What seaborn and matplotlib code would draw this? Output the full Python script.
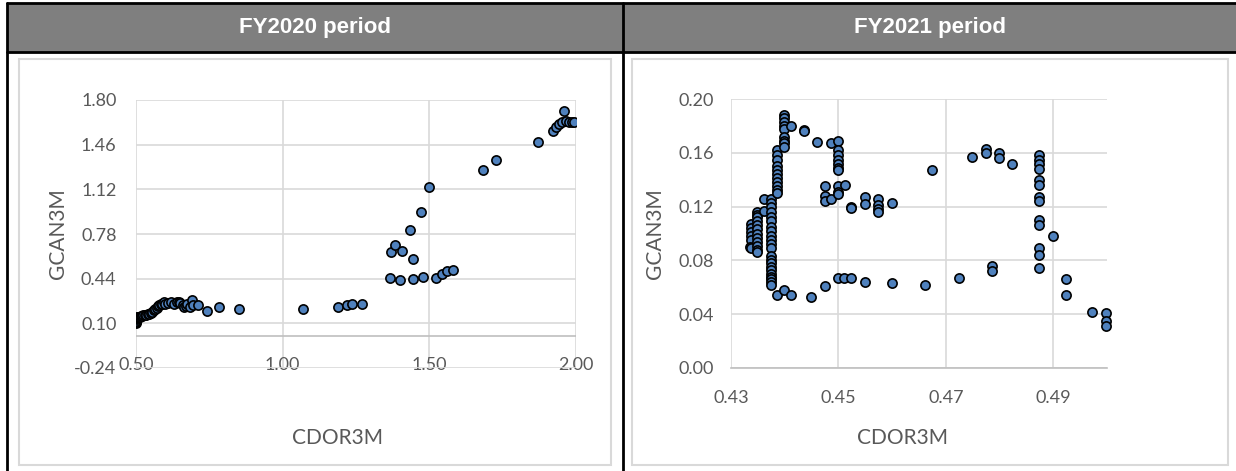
import pandas as pd
import seaborn as sns
from matplotlib import pyplot as plt
from matplotlib.patches import Rectangle
from matplotlib.lines import Line2D

# FY2020: CDOR3M (x) vs GCAN3M (y)
cdor_2020 = [0.500, 0.500, 0.501, 0.502, 0.503, 0.505, 0.508, 0.512, 0.516, 0.520,
             0.525, 0.530, 0.535, 0.540, 0.545, 0.550, 0.555, 0.560, 0.565, 0.570,
             0.575, 0.580, 0.585, 0.590, 0.595, 0.600, 0.610, 0.620, 0.630, 0.640,
             0.645, 0.650, 0.660, 0.665, 0.670, 0.675, 0.683, 0.690, 0.695, 0.711,
             0.741, 0.782, 0.850, 1.068, 1.190, 1.221, 1.235, 1.269,
             1.367, 1.401, 1.446, 1.480, 1.523, 1.544, 1.561, 1.582,
             1.371, 1.384, 1.408, 1.446, 1.435, 1.473, 1.500, 1.684, 1.728, 1.871,
             1.922, 1.932, 1.942, 1.952, 1.959, 1.966, 1.976, 1.985, 1.993]
gcan_2020 = [0.100, 0.110, 0.120, 0.130, 0.140, 0.145, 0.150, 0.150, 0.155, 0.155,
             0.160, 0.160, 0.165, 0.170, 0.170, 0.180, 0.190, 0.200, 0.210, 0.220,
             0.230, 0.240, 0.245, 0.250, 0.260, 0.250, 0.255, 0.260, 0.250, 0.266,
             0.260, 0.251, 0.240, 0.221, 0.230, 0.250, 0.221, 0.281, 0.240, 0.236,
             0.191, 0.221, 0.206, 0.206, 0.221, 0.236, 0.244, 0.244,
             0.448, 0.432, 0.440, 0.455, 0.448, 0.478, 0.500, 0.508,
             0.644, 0.697, 0.652, 0.591, 0.811, 0.946, 1.135, 1.264, 1.347, 1.483,
             1.566, 1.596, 1.619, 1.634, 1.717, 1.641, 1.634, 1.634, 1.634]

# FY2021
cdor_2021 = [0.4337, 0.4337, 0.4337, 0.4337, 0.4337, 0.4335, 0.4337,
             0.4348, 0.4348, 0.4348, 0.4348, 0.4348, 0.4348, 0.4348, 0.4348, 0.4348, 0.4348, 0.4348, 0.4348,
             0.4361, 0.4361,
             0.4374, 0.4374, 0.4374, 0.4374, 0.4374, 0.4374, 0.4374, 0.4374, 0.4374, 0.4374, 0.4374,
             0.4374, 0.4374, 0.4374, 0.4374, 0.4374, 0.4374, 0.4374, 0.4374, 0.4374, 0.4374, 0.4374,
             0.4386, 0.4386, 0.4386, 0.4386, 0.4386, 0.4386, 0.4386, 0.4386, 0.4386, 0.4386, 0.4386, 0.4386,
             0.4399, 0.4399, 0.4399, 0.4399, 0.4399, 0.4399, 0.4399, 0.4399, 0.4399, 0.4399,
             0.4412, 0.4412, 0.4436, 0.4436, 0.4449, 0.4460,
             0.4475, 0.4475, 0.4475, 0.4475, 0.4486, 0.4486,
             0.4499, 0.4499, 0.4499, 0.4499, 0.4499, 0.4499, 0.4499, 0.4499, 0.4499, 0.4499, 0.4499,
             0.4512, 0.4511, 0.4523, 0.4523, 0.4523, 0.4549, 0.4549, 0.4549,
             0.4574, 0.4574, 0.4574, 0.4574, 0.4600, 0.4600, 0.4661, 0.4674, 0.4724, 0.4748,
             0.4774, 0.4774, 0.4786, 0.4786, 0.4799, 0.4799, 0.4823,
             0.4873, 0.4873, 0.4873, 0.4873, 0.4873, 0.4873, 0.4873, 0.4873, 0.4873, 0.4873, 0.4873, 0.4873, 0.4873,
             0.4899, 0.4923, 0.4923, 0.4973, 0.4998, 0.4998, 0.4998]
gcan_2021 = [0.107, 0.104, 0.101, 0.098, 0.095, 0.090, 0.089,
             0.116, 0.114, 0.112, 0.109, 0.106, 0.103, 0.100, 0.097, 0.094, 0.091, 0.088, 0.086,
             0.126, 0.117,
             0.126, 0.123, 0.120, 0.116, 0.112, 0.109, 0.105, 0.102, 0.098, 0.095, 0.092,
             0.089, 0.083, 0.080, 0.078, 0.075, 0.073, 0.070, 0.068, 0.066, 0.064, 0.062,
             0.162, 0.158, 0.155, 0.150, 0.147, 0.144, 0.141, 0.138, 0.135, 0.132, 0.130, 0.054,
             0.188, 0.186, 0.183, 0.180, 0.178, 0.172, 0.169, 0.167, 0.164, 0.058,
             0.180, 0.054, 0.177, 0.176, 0.053, 0.168,
             0.135, 0.128, 0.124, 0.061, 0.167, 0.126,
             0.169, 0.162, 0.158, 0.155, 0.152, 0.149, 0.147, 0.135, 0.131, 0.129, 0.067,
             0.136, 0.067, 0.120, 0.119, 0.067, 0.127, 0.122, 0.064,
             0.126, 0.121, 0.118, 0.116, 0.123, 0.063, 0.062, 0.147, 0.067, 0.157,
             0.163, 0.160, 0.076, 0.072, 0.160, 0.156, 0.152,
             0.158, 0.155, 0.152, 0.148, 0.140, 0.136, 0.127, 0.124, 0.110, 0.106, 0.089, 0.084, 0.074,
             0.098, 0.066, 0.054, 0.042, 0.041, 0.035, 0.031]

titulos = ['FY2020 period', 'FY2021 period']
xticks_2020 = [0.50, 1.00, 1.50, 2.00]
yticks_2020 = [-0.24, 0.10, 0.44, 0.78, 1.12, 1.46, 1.80]
xticks_2021 = [0.43, 0.45, 0.47, 0.49]
yticks_2021 = [0.00, 0.04, 0.08, 0.12, 0.16, 0.20]

sns.set_style('white')
plt.rcParams['font.family'] = ['Lato', 'DejaVu Sans']

W, H = 1236, 471
fig = plt.figure(figsize=(W / 100, H / 100), dpi=100)


def fx(p):
    return p / W


def fy(p):
    return 1 - p / H


# cabecera gris + bordes tipo tabla
fig.add_artist(Rectangle((fx(7), fy(52)), fx(W - 7), 49 / H, transform=fig.transFigure,
                         facecolor='#7f7f7f', edgecolor='none'))
for (x0, y0, x1, y1) in [(7, 3, W, 3), (7, 52, W, 52), (7, 3, 7, H), (623, 3, 623, H)]:
    fig.add_artist(Line2D([fx(x0), fx(x1)], [fy(y0), fy(y1)], transform=fig.transFigure,
                          color='black', lw=2))
for titulo, cx in zip(titulos, [315, 930]):
    fig.text(fx(cx), fy(28), titulo, ha='center', va='center', color='white',
             fontsize=16, fontweight='bold', family='Liberation Sans')

# marcos de los graficos
for (x0, y0, x1, y1) in [(19, 59, 611, 465), (632, 59, 1228, 465)]:
    fig.add_artist(Rectangle((fx(x0), fy(y1)), (x1 - x0) / W, (y1 - y0) / H,
                             transform=fig.transFigure, facecolor='none',
                             edgecolor='#d9d9d9', lw=1.5))

gris = '#595959'
grilla = '#d9d9d9'

# FY2020
ax1 = fig.add_axes([fx(136), fy(368), 440 / W, 268 / H])
df20 = pd.DataFrame({'CDOR3M': cdor_2020, 'GCAN3M': gcan_2020})
sns.scatterplot(data=df20, x='CDOR3M', y='GCAN3M', ax=ax1, color='#4f81bd',
                edgecolor='black', linewidth=1.2, s=44, zorder=3)
ax1.set_xlim(0.5, 2.0)
ax1.set_ylim(-0.24, 1.80)
ax1.set_xticks(xticks_2020)
ax1.set_yticks(yticks_2020)
ax1.set_xticklabels(['%.2f' % t for t in xticks_2020])
ax1.set_yticklabels(['%.2f' % t for t in yticks_2020])
ax1.grid(True, color=grilla, lw=1.2)
ax1.axhline(0, color='#bfbfbf', lw=1.2, zorder=2)
ax1.tick_params(axis='x', length=0, pad=-8, labelsize=13, labelcolor=gris)
ax1.tick_params(axis='y', length=0, pad=14, labelsize=13, labelcolor=gris)
for sp in ax1.spines.values():
    sp.set_visible(False)
ax1.set_xlabel('CDOR3M', fontsize=15, color=gris)
ax1.set_ylabel('GCAN3M', fontsize=15, color=gris)
ax1.xaxis.set_label_coords(0.457, -0.224)
ax1.yaxis.set_label_coords(-0.155, 0.5)

# FY2021
ax2 = fig.add_axes([fx(731), fy(368), 376 / W, 269 / H])
df21 = pd.DataFrame({'CDOR3M': cdor_2021, 'GCAN3M': gcan_2021})
sns.scatterplot(data=df21, x='CDOR3M', y='GCAN3M', ax=ax2, color='#4f81bd',
                edgecolor='black', linewidth=1.2, s=44, zorder=3, clip_on=False)
ax2.set_xlim(0.43, 0.50)
ax2.set_ylim(0.0, 0.20)
ax2.set_xticks(xticks_2021)
ax2.set_yticks(yticks_2021)
ax2.set_xticklabels(['%.2f' % t for t in xticks_2021])
ax2.set_yticklabels(['%.2f' % t for t in yticks_2021])
ax2.grid(True, color=grilla, lw=1.2)
ax2.tick_params(axis='x', length=0, pad=16, labelsize=13, labelcolor=gris)
ax2.tick_params(axis='y', length=0, pad=12, labelsize=13, labelcolor=gris)
for nombre, sp in ax2.spines.items():
    sp.set_visible(nombre == 'bottom')
ax2.spines['bottom'].set_color('#bfbfbf')
ax2.spines['bottom'].set_linewidth(1.2)
ax2.set_xlabel('CDOR3M', fontsize=15, color=gris)
ax2.set_ylabel('GCAN3M', fontsize=15, color=gris)
ax2.xaxis.set_label_coords(0.455, -0.223)
ax2.yaxis.set_label_coords(-0.176, 0.5)

fig.savefig('out.png', dpi=100)
plt.close()
